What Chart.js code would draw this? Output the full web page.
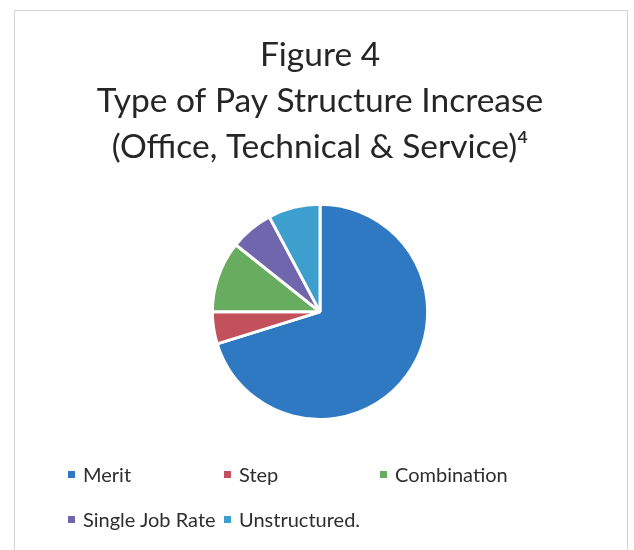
<!DOCTYPE html>
<html>
<head>
<meta charset="utf-8">
<script src="https://cdn.jsdelivr.net/npm/chart.js@4.4.0/dist/chart.umd.min.js"></script>
<style>
  html, body { margin: 0; padding: 0; background: #fff; }
  #wrap { position: relative; width: 634px; height: 550px; overflow: hidden; }
  #frame { position: absolute; left: 14px; top: 10px; width: 612px; height: 560px; border: 1px solid #d4d4d4; }
  #c { position: absolute; left: 0; top: 0; }
  #legend { position: absolute; left: 68px; top: 458px; width: 480px; font-family: Lato, "Open Sans", sans-serif; font-size: 20px; color: #2e2e2e; }
  .item { display: inline-block; width: 156px; height: 45px; line-height: 32px; white-space: nowrap; }
  .box { display: inline-block; width: 7px; height: 7px; margin-right: 8px; vertical-align: middle; position: relative; top: -2px; }
</style>
</head>
<body>
<div id="wrap">
  <div id="frame"></div>
  <canvas id="c" width="634" height="550"></canvas>
  <div id="legend"></div>
</div>
<script>
var titleLines = ['Figure 4', 'Type of Pay Structure Increase', '(Office, Technical & Service)\u2074'];
var categories = ['Merit', 'Step', 'Combination', 'Single Job Rate', 'Unstructured.'];
var values = [70.2, 4.8, 10.7, 6.5, 7.8];
var colors = ['#2f78c2', '#c2515b', '#68ad5f', '#6f66ae', '#3c9fce'];

var ctx = document.getElementById('c');
var chart = new Chart(ctx, {
  type: 'pie',
  data: {
    labels: categories,
    datasets: [{
      data: values,
      backgroundColor: colors,
      borderColor: '#ffffff',
      borderWidth: 3
    }]
  },
  options: {
    responsive: false,
    animation: false,
    layout: { padding: { top: 22, bottom: 129, left: 6, right: 0 } },
    plugins: {
      legend: { display: false },
      tooltip: { enabled: false },
      title: {
        display: true,
        text: titleLines,
        color: '#262626',
        font: { family: 'Lato, "Open Sans", sans-serif', size: 33.5, weight: 'normal', lineHeight: 1.37 },
        padding: { top: 10, bottom: 33 }
      }
    }
  }
});

// legend grid built from the chart data
var legend = document.getElementById('legend');
chart.data.labels.forEach(function(label, i){
  var item = document.createElement('span');
  item.className = 'item';
  var box = document.createElement('span');
  box.className = 'box';
  box.style.background = chart.data.datasets[0].backgroundColor[i];
  item.appendChild(box);
  item.appendChild(document.createTextNode(label));
  legend.appendChild(item);
});
</script>
</body>
</html>
